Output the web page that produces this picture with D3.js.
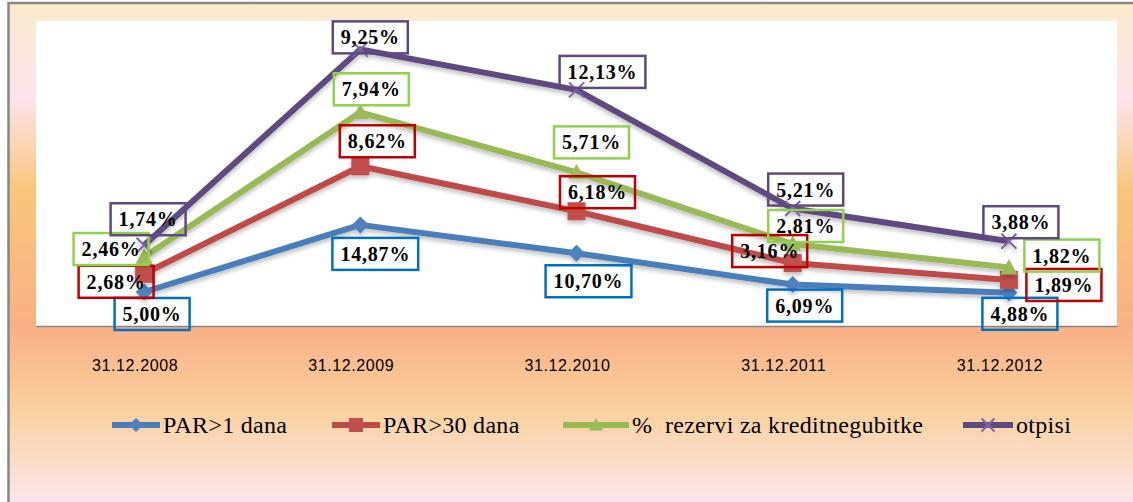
<!DOCTYPE html>
<html>
<head>
<meta charset="utf-8">
<script src="https://cdn.jsdelivr.net/npm/d3@7"></script>
<style>
  body { margin: 0; background: #fff; }
  .serif { font-family: "Liberation Serif", "Times New Roman", serif; }
  .sans { font-family: "Liberation Sans", Arial, sans-serif; }
</style>
</head>
<body>
<svg id="chart" width="1133" height="502"></svg>
<script>
// data
const categories = ["31.12.2008", "31.12.2009", "31.12.2010", "31.12.2011", "31.12.2012"]
const par1 = [5.00, 14.87, 10.70, 6.09, 4.88]
const par30 = [2.68, 8.62, 6.18, 3.16, 1.89]
const rezerve = [2.46, 7.94, 5.71, 2.81, 1.82]
const otpisi = [1.74, 9.25, 12.13, 5.21, 3.88]
const seriesNames = ["PAR>1 dana", "PAR>30 dana", "% rezervi za kreditnegubitke", "otpisi"]

// label placement (offset of the label box centre from its point, px)
const labelOffsets = [
    [[8, 22], [15, 29], [12, 28], [12, 21], [11, 21]],
    [[-28, 8], [17, -25], [21, -19], [-23, -12], [55, 5]],
    [[-33, -8], [11, -23], [15, -30], [13, -18], [53, -12]],
    [[4, -26], [10, -12], [26, -18], [13, -19], [12, -19]]
]
// legend layout: start of each sample line and its length
const legendX = [112, 332, 563, 963]
const legendLen = [48, 48, 66, 50]

const keys = ["par1", "par30", "rezerve", "otpisi"]
const lineColors = ["#4A7EBB", "#BE4B48", "#98B954", "#5F4A7F"]
const markerColors = ["#4F81BD", "#C0504D", "#9BBB59", "#8064A2"]
const boxColors = ["#0070C0", "#C00000", "#92D050", "#604A7B"]
const markerKinds = ["diamond", "square", "triangle", "x"]

const rows = categories.map((c, i) => ({
    cat: c, par1: par1[i], par30: par30[i], rezerve: rezerve[i], otpisi: otpisi[i]
}))
const stacked = d3.stack().keys(keys)(rows)

const svg = d3.select("#chart")
const defs = svg.append("defs")

// background gradient
const bg = defs.append("linearGradient")
    .attr("id", "bgGrad")
    .attr("gradientUnits", "userSpaceOnUse")
    .attr("x1", 0).attr("y1", 3).attr("x2", 0).attr("y2", 502)
const bgStops = [[0, "#FAEBCD"], [0.19, "#FDE4EC"], [0.37, "#F9C67E"], [0.65, "#F9B084"], [0.82, "#FAD1A0"], [1, "#FCE6EC"]]
bgStops.forEach(s => bg.append("stop").attr("offset", s[0]).attr("stop-color", s[1]))

const shadow = defs.append("filter").attr("id", "shadow")
    .attr("x", "-20%").attr("y", "-20%").attr("width", "140%").attr("height", "160%")
shadow.append("feDropShadow")
    .attr("dx", 0).attr("dy", 3).attr("stdDeviation", 2)
    .attr("flood-color", "#000").attr("flood-opacity", 0.25)

svg.append("rect")
    .attr("x", 8.5).attr("y", 3)
    .attr("width", 1140).attr("height", 520)
    .attr("fill", "url(#bgGrad)")
    .attr("stroke", "#878787")
    .attr("stroke-width", 2.5)

// plot area
const plot = { left: 36, right: 1117, top: 20, bottom: 326 }

svg.append("rect")
    .attr("x", plot.left).attr("y", 21)
    .attr("width", plot.right - plot.left).attr("height", plot.bottom - 21)
    .attr("fill", "#fff")

const x = d3.scaleBand().domain(categories).range([plot.left, plot.right])
const cx = c => x(c) + x.bandwidth() / 2
const y = d3.scaleLinear().domain([0, 45]).range([plot.bottom, plot.top])

// x axis
const xAxis = svg.append("g")
    .attr("transform", "translate(0," + plot.bottom + ")")
    .call(d3.axisBottom(x).tickSize(0).tickPadding(34))
xAxis.attr("font-family", null).attr("font-size", null)
xAxis.select(".domain").attr("stroke", "#868686").attr("stroke-width", 1.5)
xAxis.selectAll("text")
    .attr("class", "sans")
    .attr("dx", -9)
    .style("font-size", "16px")
    .style("letter-spacing", "0.6px")
    .attr("fill", "#000")

// markers
function markerPath(kind, s) {
    const h = s / 2
    if (kind === "diamond") return `M0,${-h}L${h},0L0,${h}L${-h},0Z`
    if (kind === "square") return `M${-h},${-h}H${h}V${h}H${-h}Z`
    if (kind === "triangle") return `M0,${-h}L${h},${h * 0.8}L${-h},${h * 0.8}Z`
    return `M${-h},${-h}L${h},${h}M${h},${-h}L${-h},${h}`
}

const line = d3.line()
    .x(d => cx(d.data.cat))
    .y(d => y(d[1]))

stacked.forEach((s, i) => {
    const g = svg.append("g").attr("filter", "url(#shadow)")
    g.append("path")
        .datum(s)
        .attr("fill", "none")
        .attr("stroke", lineColors[i])
        .attr("stroke-width", 6)
        .attr("stroke-linejoin", "round")
        .attr("d", line)
    const kind = markerKinds[i]
    const size = kind === "square" ? 18 : kind === "x" ? 15 : 17
    g.selectAll("path.mk")
        .data(s)
        .enter().append("path")
        .attr("class", "mk")
        .attr("transform", d => "translate(" + cx(d.data.cat) + "," + y(d[1]) + ")")
        .attr("d", markerPath(kind, size))
        .attr("fill", kind === "x" ? "none" : markerColors[i])
        .attr("stroke", kind === "x" ? markerColors[i] : "none")
        .attr("stroke-width", 2)
})

// data labels
const values = [par1, par30, rezerve, otpisi]
const fmt = v => v.toFixed(2).replace(".", ",") + "%"
stacked.forEach((s, i) => {
    s.forEach((d, j) => {
        const px = cx(d.data.cat) + labelOffsets[i][j][0]
        const py = y(d[1]) + labelOffsets[i][j][1]
        const lg = svg.append("g").attr("transform", "translate(" + px + "," + py + ")")
        const t = lg.append("text")
            .attr("class", "serif")
            .attr("text-anchor", "middle")
            .attr("y", 7)
            .style("font-weight", "bold")
            .style("font-size", "20px")
            .style("letter-spacing", "0.8px")
            .attr("fill", "#000")
            .text(fmt(values[i][j]))
        const w = t.node().getComputedTextLength() + 16
        lg.insert("rect", "text")
            .attr("x", -w / 2).attr("y", -16)
            .attr("width", w).attr("height", 32)
            .attr("fill", "none")
            .attr("stroke", boxColors[i])
            .attr("stroke-width", 2.5)
    })
})

// legend
const legend = svg.append("g").attr("transform", "translate(0,425)")
seriesNames.forEach((name, i) => {
    const it = legend.append("g").attr("transform", "translate(" + legendX[i] + ",0)")
    const len = legendLen[i]
    it.append("line")
        .attr("x1", 0).attr("x2", len)
        .attr("stroke", lineColors[i]).attr("stroke-width", 6)
    const kind = markerKinds[i]
    it.append("path")
        .attr("transform", "translate(" + (len / 2) + ",0)")
        .attr("d", markerPath(kind, kind === "x" ? 13 : 14))
        .attr("fill", kind === "x" ? "none" : markerColors[i])
        .attr("stroke", kind === "x" ? markerColors[i] : "none")
        .attr("stroke-width", 2)
    it.append("text")
        .attr("class", "serif")
        .attr("x", len + 3).attr("y", 8)
        .style("font-size", "24px")
        .style("letter-spacing", "0.3px")
        .style("white-space", "pre")
        .attr("fill", "#000")
        .text(name.replace("% ", "%  "))
})
</script>
</body>
</html>
